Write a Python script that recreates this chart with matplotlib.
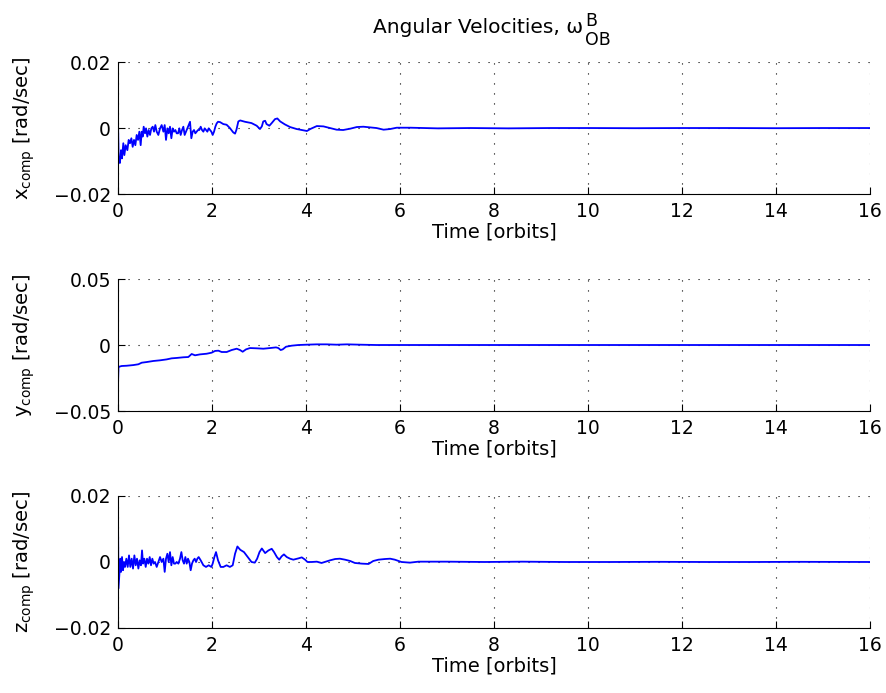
import numpy as np
import matplotlib.pyplot as plt

plt.rcParams['font.family'] = ['DejaVu Sans']
plt.rcParams['mathtext.fontset'] = 'dejavusans'

# values, in 1e-3 rad/sec, time in orbits
SCALE = 1e-3

t_x = [0.0, 0.015, 0.04, 0.064, 0.085, 0.113, 0.135, 0.163, 0.199, 0.227, 0.255, 0.284,
       0.312, 0.34, 0.369, 0.397, 0.426, 0.454, 0.482, 0.504, 0.525, 0.546, 0.574, 0.596,
       0.624, 0.652, 0.681, 0.709, 0.738, 0.766, 0.794, 0.823, 0.858, 0.894, 0.929, 0.965,
       0.993, 1.021, 1.05, 1.078, 1.106, 1.135, 1.163, 1.191, 1.22, 1.248, 1.277, 1.305,
       1.333, 1.362, 1.39, 1.418, 1.447, 1.475, 1.504, 1.532, 1.56, 1.589, 1.617, 1.645,
       1.674, 1.702, 1.73, 1.759, 1.787, 1.816, 1.844, 1.872, 1.901, 1.929, 1.957, 1.986,
       2.014, 2.043, 2.071, 2.099, 2.128, 2.17, 2.24, 2.31, 2.38, 2.45, 2.49, 2.52, 2.56,
       2.60, 2.70, 2.84, 2.95, 3.02, 3.06, 3.09, 3.13, 3.16, 3.22, 3.27, 3.34, 3.39, 3.45,
       3.55, 3.66, 3.80, 3.94, 4.02, 4.09, 4.23, 4.37, 4.51, 4.65, 4.79, 4.94, 5.08, 5.22,
       5.36, 5.50, 5.65, 5.79, 5.93, 6.22, 6.8, 7.5, 8.3, 9.2, 10.0, 11.0, 12.0, 13.0,
       14.0, 15.0, 16.0]
x_comp = [1.5, -10.0, -10.6, -6.7, -9.2, -4.6, -8.2, -5.2, -6.7, -3.6, -4.6, -3.1,
          -5.7, -3.6, -5.2, -2.1, -3.6, -1.1, -5.2, -1.1, -2.6, 0.4, -1.6, -0.1,
          -2.6, -0.6, -2.1, -0.1, 0.4, -1.1, 0.9, -1.1, -2.1, -0.1, 0.9, -1.1,
          0.9, -3.6, -0.1, -1.6, 0.4, -3.1, -0.1, -1.1, -0.6, -1.6, -1.6, -0.1,
          -2.1, -0.6, 0.4, -2.1, -1.1, -0.1, 0.9, 1.9, -3.1, -1.1, -0.6, -1.6,
          -1.1, -0.6, -0.6, 0.4, -0.6, -1.1, -0.1, -0.6, -1.1, -0.1, -0.6, -1.1,
          -2.1, -1.1, 0.4, 1.4, 1.9, 1.8, 1.2, 1.0, 0.0, -1.3, -1.7, -0.5, 2.0,
          2.3, 1.9, 1.5, 0.7, -0.3, 0.5, 2.0, 2.2, 1.2, 0.7, 1.5, 2.7, 2.9, 2.0,
          1.1, 0.3, -0.3, -0.7, -0.9, -0.3, 0.6, 0.5, 0.0, -0.5, -0.6, -0.2, 0.3, 0.4,
          0.2, 0.0, -0.5, -0.3, 0.1, 0.1, -0.1, 0.0, -0.1, 0.0, 0.0, -0.05, 0.0, 0.0,
          -0.05, 0.0, 0.0]

t_y = [0.0, 0.01, 0.028, 0.078, 0.184, 0.326, 0.433, 0.504, 0.61, 0.752, 0.894, 1.035,
       1.14, 1.248, 1.39, 1.496, 1.567, 1.638, 1.745, 1.887, 1.993, 2.064, 2.135, 2.206,
       2.312, 2.418, 2.525, 2.596, 2.652, 2.723, 2.809, 2.95, 3.092, 3.234, 3.362, 3.411,
       3.461, 3.504, 3.574, 3.695, 3.837, 4.014, 4.227, 4.44, 4.65, 4.87, 5.15, 5.5, 6.2,
       8.0, 10.0, 12.0, 14.0, 16.0]
y_comp = [-29.5, -17.0, -16.4, -15.9, -15.7, -15.2, -14.6, -13.4, -12.9, -12.1, -11.6, -10.9,
          -10.1, -9.8, -9.3, -9.1, -6.8, -7.8, -7.1, -6.6, -5.8, -4.5, -4.3, -5.3,
          -5.3, -3.8, -2.8, -3.8, -5.1, -3.3, -2.3, -2.5, -2.8, -2.3, -1.8, -2.3,
          -3.8, -3.3, -1.3, -0.5, 0.0, 0.25, 0.5, 0.5, 0.25, 0.5, 0.25, 0.0, 0.0,
          0.0, 0.0, 0.0, 0.0, 0.0]

t_z = [0.0, 0.01, 0.05, 0.064, 0.085, 0.106, 0.128, 0.149, 0.177, 0.206, 0.234, 0.262,
       0.291, 0.319, 0.348, 0.376, 0.404, 0.433, 0.461, 0.489, 0.511, 0.532, 0.56, 0.589,
       0.617, 0.645, 0.674, 0.702, 0.73, 0.759, 0.787, 0.823, 0.858, 0.894, 0.929, 0.965,
       0.993, 1.021, 1.05, 1.078, 1.106, 1.135, 1.163, 1.191, 1.22, 1.248, 1.284, 1.319,
       1.348, 1.376, 1.404, 1.433, 1.461, 1.489, 1.518, 1.546, 1.574, 1.603, 1.631, 1.66,
       1.688, 1.716, 1.759, 1.816, 1.872, 1.929, 1.986, 2.014, 2.05, 2.085, 2.128, 2.184,
       2.241, 2.31, 2.38, 2.44, 2.49, 2.54, 2.6, 2.68, 2.77, 2.84, 2.91, 2.96, 3.01,
       3.06, 3.13, 3.20, 3.27, 3.32, 3.38, 3.43, 3.48, 3.53, 3.59, 3.66, 3.73, 3.84,
       3.91, 3.98, 4.03, 4.12, 4.23, 4.33, 4.40, 4.51, 4.62, 4.72, 4.83, 4.94, 5.04,
       5.19, 5.33, 5.43, 5.54, 5.68, 5.79, 5.89, 6.03, 6.21, 6.39, 7.0, 7.8, 8.6, 9.5,
       10.5, 11.5, 12.5, 13.5, 14.5, 15.5, 16.0]
z_comp = [13.0, -8.0, 1.0, -3.0, 1.5, -2.5, 0.0, -1.5, 1.0, -1.5, 2.0, -1.5,
          1.0, -2.0, 2.0, -1.0, 1.0, -2.0, 0.5, -1.0, 3.5, -0.5, 1.0, -1.5,
          1.0, -0.5, 1.5, -1.0, 1.0, -0.5, 0.0, -1.5, 0.0, 1.5, 0.0, 1.0,
          -3.0, 1.0, 2.5, 0.0, 3.0, -1.0, 1.5, -0.5, -0.5, 0.0, -0.5, 1.0,
          3.0, 0.5, -0.5, 1.5, -0.5, 1.0, 0.0, -2.5, -0.5, 0.5, 1.0, 0.0,
          1.0, 1.5, 0.5, -1.0, -1.5, -1.0, -1.5, -0.5, 1.5, 3.0, 0.5, -1.5,
          -1.5, -1.0, -1.5, -1.0, 2.5, 4.7, 3.7, 3.0, 1.3, 0.0, -0.2, 1.0, 3.0,
          4.1, 2.7, 3.5, 4.0, 3.0, 1.5, 0.7, 1.7, 2.3, 1.5, 1.0, 0.7, 1.1,
          1.4, 0.7, 0.0, 0.0, 0.1, -0.3, 0.0, 0.5, 0.9, 1.0, 0.7, 0.3, -0.3,
          -0.5, -0.6, 0.3, 0.7, 0.9, 1.0, 0.7, 0.0, -0.2, 0.1, 0.1, 0.0, 0.1, 0.0,
          0.0, 0.05, 0.0, 0.0, 0.05, 0.0, 0.0]

series = [(t_x, x_comp, 'x', 0.02), (t_y, y_comp, 'y', 0.05), (t_z, z_comp, 'z', 0.02)]
xticks = [0, 2, 4, 6, 8, 10, 12, 14, 16]

fig = plt.figure(figsize=(8.86, 6.93), dpi=100)
bottoms = [0.720, 0.4069, 0.0938]
for (t, v, name, lim), b in zip(series, bottoms):
    ax = fig.add_axes([0.1332, b, 0.8488, 0.1905])
    ax.plot(t, np.array(v) * SCALE, color=(0, 0, 1), lw=1.3)
    ax.set_xlim(0, 16)
    ax.set_ylim(-lim, lim)
    ax.set_xticks(xticks)
    ax.set_yticks([-lim, 0, lim])
    ax.set_yticklabels(['\u2212%g' % lim, '0', '%g' % lim])
    ax.grid(True, color='black', linestyle=(0, (1, 8)), lw=0.8)
    ax.spines['top'].set_visible(False)
    ax.spines['right'].set_visible(False)
    ax.tick_params(direction='in', length=5, labelsize=13.5)
    ax.tick_params(axis='x', pad=6)
    ax.tick_params(axis='y', pad=5)
    ax.set_xlabel('Time [orbits]', fontsize=14, labelpad=1)
    ax.set_ylabel(r'$\mathrm{%s_{comp}}$ [rad/sec]' % name, fontsize=14, labelpad=12)
    if name == 'x':
        # MATLAB-style title with large super/subscripts
        ax.text(0.618, 1.22, 'Angular Velocities, \u03c9', transform=ax.transAxes,
                ha='right', va='baseline', fontsize=14.5)
        ax.text(0.621, 1.27, 'B', transform=ax.transAxes,
                ha='left', va='baseline', fontsize=12.5)
        ax.text(0.621, 1.13, 'OB', transform=ax.transAxes,
                ha='left', va='baseline', fontsize=12.5)

fig.savefig('out.png', dpi=100)
